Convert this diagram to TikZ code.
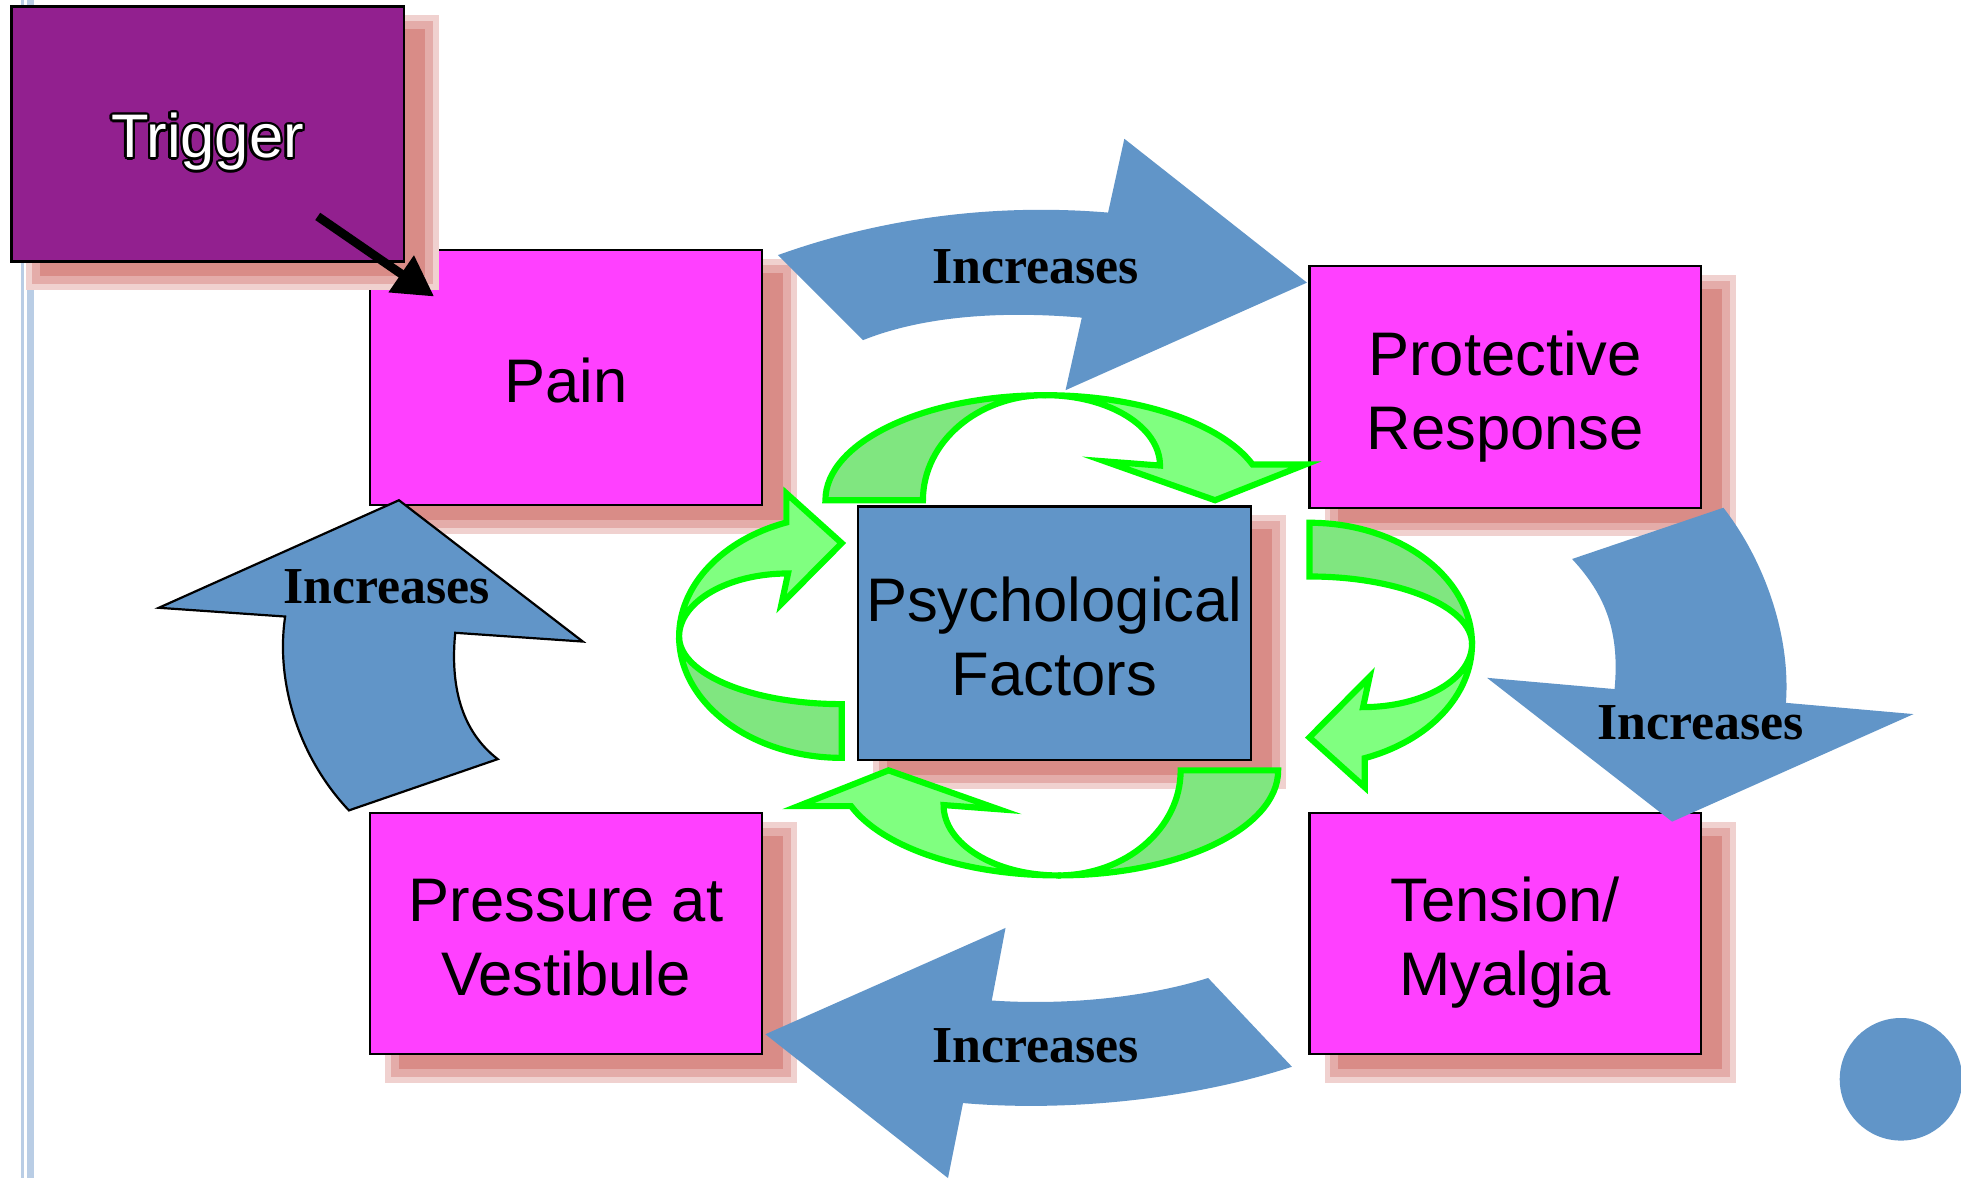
\documentclass[tikz,border=0pt]{standalone}
\usepackage{fontspec}
\setmainfont{Liberation Sans}
\newfontfamily\incfont{Liberation Serif}
\usepackage{contour}
\contourlength{0.55pt}
\usetikzlibrary{
  arrows.meta,
  shadows
}
\definecolor{trigpurple}{HTML}{92208F}
\definecolor{boxpink}{HTML}{FF40FF}
\definecolor{arrowblue}{HTML}{6195C8}
\definecolor{shade}{HTML}{D98C87}
\definecolor{ribbon}{HTML}{00FF00}
\definecolor{ribbonlight}{HTML}{80FF80}
\definecolor{ribbondark}{HTML}{80E680}
\definecolor{margin}{HTML}{B9CDE5}

% one twisted U-turn ribbon, unit size
\newcommand{\turnarrow}{%
  \filldraw[turnback] (-1,0) arc[start angle=180, end angle=90, radius=1]
    arc[start angle=90, end angle=180, x radius=0.557, y radius=1] -- cycle;
  \filldraw[turnfront] (0,1) arc[start angle=90, end angle=19.9, radius=1]
    -- (1.18,0.34) -- (0.77,0) -- (0.27,0.37) -- (0.52,0.33)
    arc[start angle=0, end angle=90, x radius=0.52, y radius=0.67] -- cycle;}

\begin{document}
\begin{tikzpicture}[
  box/.style={draw, line width=0.5pt, fill=boxpink, minimum width=3.13cm,
              minimum height=1.93cm, inner sep=1pt, align=center,
              font=\fontsize{14}{16.8}\selectfont,
              execute at begin node={\rule[-0.21em]{0pt}{1.235em}},
              general shadow={fill=shade!40, draw=shade!40, line width=4.5pt,
                              shadow xshift=0.2cm, shadow yshift=-0.15cm},
              general shadow={fill=shade, draw=shade!72, line width=1.8pt,
                              shadow xshift=0.2cm, shadow yshift=-0.15cm}},
  twoline/.style={execute at begin node={\rule[-0.21em]{0pt}{2.435em}}},
  inc/.style={font=\incfont\bfseries\fontsize{11.8}{14}\selectfont},
  bigarr/.style={fill=arrowblue},
  turnback/.style={fill=ribbondark, draw=ribbon, line width=1.4pt},
  turnfront/.style={fill=ribbonlight, draw=ribbon, line width=1.4pt},
  trigarr/.style={-{Triangle[length=3.2mm, width=3.4mm]}, line width=2pt}
]
  \useasboundingbox (0,0) rectangle (15.68,9.42);
  \fill[white] (0,0) rectangle (15.68,9.42);

  % Margin rules
  \fill[margin] (0.168,0) rectangle (0.192,9.42);
  \fill[margin] (0.213,0) rectangle (0.272,9.42);

  % Boxes
  \node[box, minimum height=2.04cm] (pain) at (4.525,6.40) {Pain};
  \node[box, twoline] (prot) at (12.035,6.325) {Protective\\Response};
  \node[box, twoline, fill=arrowblue, minimum width=3.14cm, minimum height=2.03cm] (psych) at (8.43,4.355) {Psychological\\Factors};
  \node[box, twoline] (press) at (4.525,1.955) {Pressure at\\Vestibule};
  \node[box, twoline] (tens) at (12.035,1.955) {Tension/\\Myalgia};

  % Blue arrows round the cycle
  \fill[bigarr] (6.22,7.38) .. controls (7.0,7.66) and (7.9,7.80) .. (8.86,7.72)
    -- (8.99,8.31) -- (10.45,7.16) -- (8.52,6.30) -- (8.65,6.88)
    .. controls (7.95,6.94) and (7.35,6.88) .. (6.90,6.70) -- cycle;
  \node[inc] (inc1) at (8.28,7.29) {Increases};

  \fill[bigarr] (12.57,4.95) -- (13.78,5.36)
    .. controls (14.10,4.95) and (14.32,4.35) .. (14.28,3.80)
    -- (15.30,3.71) -- (13.37,2.85) -- (11.89,4.00) -- (12.91,3.91)
    .. controls (12.95,4.35) and (12.85,4.65) .. (12.57,4.95) -- cycle;
  \node[inc] (inc2) at (13.60,3.64) {Increases};

  \fill[bigarr] (9.66,1.60) .. controls (9.15,1.44) and (8.5,1.38) .. (7.93,1.42)
    -- (8.04,2.00) -- (6.12,1.15) -- (7.58,0.00) -- (7.70,0.60)
    .. controls (8.5,0.53) and (9.5,0.62) .. (10.33,0.89) -- cycle;
  \node[inc] (inc3) at (8.28,1.06) {Increases};

  \filldraw[bigarr, draw=black, line width=0.5pt] (2.79,2.94)
    .. controls (2.40,3.35) and (2.20,3.95) .. (2.28,4.49)
    -- (1.27,4.56) -- (3.19,5.42) -- (4.66,4.29) -- (3.64,4.36)
    .. controls (3.60,3.95) and (3.68,3.58) .. (3.98,3.35) -- cycle;
  \node[inc] (inc4) at (3.09,4.73) {Increases};

  % Green loop round Psychological Factors
  \begin{scope}[shift={(8.36,5.42)}, xscale=1.76, yscale=0.84]
    \turnarrow
  \end{scope}
  \begin{scope}[shift={(10.47,4.27)}, rotate=-90, xscale=0.97, yscale=1.30]
    \turnarrow
  \end{scope}
  \begin{scope}[shift={(8.46,3.26)}, rotate=180, xscale=1.76, yscale=0.84]
    \turnarrow
  \end{scope}
  \begin{scope}[shift={(6.73,4.33)}, rotate=90, xscale=0.97, yscale=1.30]
    \turnarrow
  \end{scope}

  % Trigger
  \node[box, fill=trigpurple, line width=0.6pt, minimum width=3.14cm, minimum height=2.04cm] (trig) at (1.66,8.35) {\color{white}\contour{black}{Trigger}};
  \draw[trigarr] ([xshift=-0.70cm, yshift=0.37cm]trig.south east) -- ([xshift=0.52cm, yshift=-0.38cm]pain.north west);

  % Corner dot
  \node[circle, fill=arrowblue, minimum size=0.98cm, inner sep=0pt] (dot) at (15.20,0.79) {};
\end{tikzpicture}
\end{document}
